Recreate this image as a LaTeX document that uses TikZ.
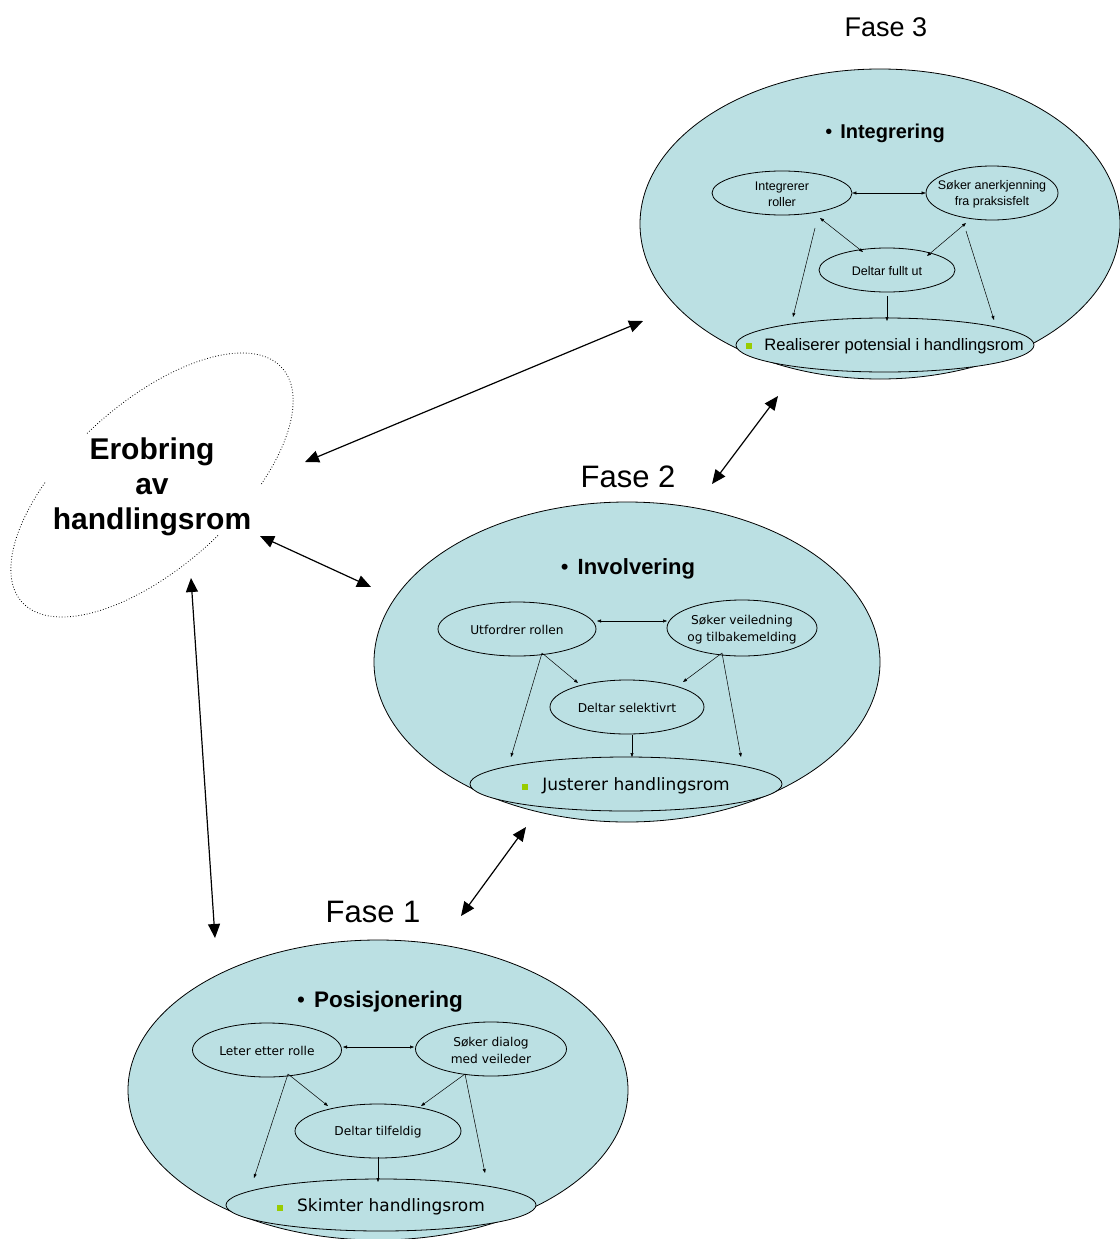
\documentclass[tikz,border=0pt]{standalone}
\usepackage{fontspec}
\setmainfont{Liberation Sans}
\newfontfamily\vfont{DejaVu Sans}
\usetikzlibrary{shapes.geometric,arrows.meta}
\definecolor{phasefill}{RGB}{187,224,227}
\definecolor{bulletgreen}{RGB}{153,204,0}
\newcommand{\sqbullet}{{\color{bulletgreen}\rule[1pt]{6pt}{6pt}}}

\begin{document}
\begin{tikzpicture}[x=1pt,y=-1pt,
  phase/.style={ellipse, draw, fill=phasefill, line width=0.8pt, inner sep=0pt},
  sub/.style={ellipse, draw, fill=phasefill, line width=0.8pt, inner sep=0pt},
  lbl/.style={inner sep=0pt, align=center},
  bigarrow/.style={line width=1.2pt, {Triangle[length=14pt,width=12pt]}-{Triangle[length=14pt,width=12pt]}},
  link/.style={line width=0.5pt, -{Triangle[length=4pt,width=3pt]}},
  dlink/.style={line width=0.5pt, {Triangle[length=4pt,width=3pt]}-{Triangle[length=4pt,width=3pt]}},
  title/.style={font=\fontsize{20}{24}\selectfont\bfseries},
  faselabel/.style={font=\fontsize{31}{36}\selectfont},
  smallA/.style={font=\fontsize{12.5}{16}\selectfont},
  smallV/.style={font=\vfont\fontsize{12.2}{17}\selectfont},
]
\useasboundingbox (0,0) rectangle (1119,1239);

% ---------- phase areas ----------
\node[phase, minimum width=480pt, minimum height=310pt] (f3) at (880,224) {};
\node[phase, minimum width=506pt, minimum height=320pt] (f2) at (627,662) {};
\node[phase, minimum width=500pt, minimum height=300pt] (f1) at (378,1090) {};

% ---------- phase labels ----------
\node[faselabel, font=\fontsize{27}{32}\selectfont] (l3) at (886,27) {Fase 3};
\node[faselabel] (l2) at (628,477) {Fase 2};
\node[faselabel] (l1) at (373,912) {Fase 1};

% ---------- Fase 3: Integrering ----------
\node[title] (t3) at (885,133) {\mdseries•\hspace{8pt}\bfseries Integrering};
\node[sub, minimum width=140pt, minimum height=44pt] (ir) at (782,193) {};
\node[lbl, smallA] (ir-t) at ([yshift=-1pt]ir.center) {Integrerer\\roller};
\node[sub, minimum width=132pt, minimum height=54pt] (sa) at (992,193) {};
\node[lbl, smallA] (sa-t) at ([yshift=-1pt]sa.center) {Søker anerkjenning\\fra praksisfelt};
\node[sub, minimum width=136pt, minimum height=44pt] (df) at (887,270) {};
\node[lbl, smallA] (df-t) at ([yshift=-1pt]df.center) {Deltar fullt ut};
\node[sub, minimum width=298pt, minimum height=54pt] (rp) at (885,345) {};
\node[lbl, font=\fontsize{16.6}{20}\selectfont] (rp-t) at ([yshift=-1pt]rp.center)
  {\sqbullet\hspace{12pt}Realiserer potensial i handlingsrom};

\draw[dlink] (ir.east) -- (sa.west);
\draw[dlink] ([shift={(38,25)}]ir.center) -- ([shift={(-24,-18)}]df.center);
\draw[dlink] ([shift={(-26,30)}]sa.center) -- ([shift={(40,-14)}]df.center);
\draw[link] ([shift={(33,35)}]ir.center) -- ([shift={(-92,-28)}]rp.center);
\draw[link] ([shift={(0,26)}]df.center) -- ([shift={(2,-24)}]rp.center);
\draw[link] ([shift={(-26,38)}]sa.center) -- ([shift={(109,-25)}]rp.center);

% ---------- Fase 2: Involvering ----------
\node[title, font=\fontsize{22}{26}\selectfont\bfseries] (t2) at (628,569) {\mdseries•\hspace{9pt}\bfseries Involvering};
\node[sub, minimum width=158pt, minimum height=54pt] (ur) at (517,629) {};
\node[lbl, smallV] (ur-t) at ([yshift=-1pt]ur.center) {Utfordrer rollen};
\node[sub, minimum width=150pt, minimum height=56pt] (sv) at (742,628) {};
\node[lbl, smallV] (sv-t) at ([yshift=-2pt]sv.center) {Søker veiledning\\og tilbakemelding};
\node[sub, minimum width=154pt, minimum height=54pt] (ds) at (627,707) {};
\node[lbl, smallV] (ds-t) at ([yshift=-1pt]ds.center) {Deltar selektivrt};
\node[sub, minimum width=312pt, minimum height=54pt] (jh) at (626,784) {};
\node[lbl, font=\vfont\fontsize{17}{20}\selectfont] (jh-t) at ([yshift=-2pt]jh.center)
  {\sqbullet\hspace{14pt}Justerer handlingsrom};

\draw[dlink] ([shift={(80,-8)}]ur.center) -- ([shift={(-75,-7)}]sv.center);
\draw[link] ([shift={(25,24)}]ur.center) -- ([shift={(-49,-24)}]ds.center);
\draw[link] ([shift={(-20,25)}]sv.center) -- ([shift={(56,-25)}]ds.center);
\draw[link] ([shift={(25,24)}]ur.center) -- ([shift={(-115,-27)}]jh.center);
\draw[link] ([shift={(-20,25)}]sv.center) -- ([shift={(115,-27)}]jh.center);
\draw[link] ([shift={(5,28)}]ds.center) -- ([shift={(6,-27)}]jh.center);

% ---------- Fase 1: Posisjonering ----------
\node[title, font=\fontsize{22.5}{26}\selectfont\bfseries] (t1) at (380,1002) {\mdseries•\hspace{9pt}\bfseries Posisjonering};
\node[sub, minimum width=149pt, minimum height=54pt] (le) at (267,1050) {};
\node[lbl, smallV] (le-t) at ([yshift=-1pt]le.center) {Leter etter rolle};
\node[sub, minimum width=151pt, minimum height=54pt] (sd) at (491,1049) {};
\node[lbl, smallV] (sd-t) at ([yshift=-1pt]sd.center) {Søker dialog\\med veileder};
\node[sub, minimum width=166pt, minimum height=54pt] (dt) at (378,1131) {};
\node[lbl, smallV] (dt-t) at ([yshift=-1pt]dt.center) {Deltar tilfeldig};
\node[sub, minimum width=310pt, minimum height=52pt] (sk) at (381,1205) {};
\node[lbl, font=\vfont\fontsize{17}{20}\selectfont] (sk-t) at ([yshift=-2pt]sk.center)
  {\sqbullet\hspace{14pt}Skimter handlingsrom};

\draw[dlink] ([shift={(76,-3)}]le.center) -- ([shift={(-77,-2)}]sd.center);
\draw[link] ([shift={(21,24)}]le.center) -- ([shift={(-50,-25)}]dt.center);
\draw[link] ([shift={(-26,25)}]sd.center) -- ([shift={(43,-25)}]dt.center);
\draw[link] ([shift={(21,24)}]le.center) -- ([shift={(-127,-27)}]sk.center);
\draw[link] ([shift={(-26,25)}]sd.center) -- ([shift={(104,-32)}]sk.center);
\draw[link] ([shift={(0,26)}]dt.center) -- ([shift={(-3,-23)}]sk.center);

% ---------- Erobring av handlingsrom ----------
\node[font=\fontsize{30}{35}\selectfont\bfseries, align=center] (ero) at (152,487) {Erobring\\av\\handlingsrom};
\begin{scope}[shift={(152,485)}, rotate=42]
  \draw[dotted, line width=0.8pt] plot[domain=-94.5:62.5, samples=90] ({175*cos(\x)},{82*sin(\x)});
  \draw[dotted, line width=0.8pt] plot[domain=85:244, samples=90] ({175*cos(\x)},{82*sin(\x)});
\end{scope}

% ---------- links between the phases ----------
\draw[bigarrow] ([shift={(153,-25)}]ero.center) -- ([shift={(-237,97)}]f3.center);
\draw[bigarrow] ([shift={(108,49)}]ero.center) -- ([shift={(-256,-75)}]f2.center);
\draw[bigarrow] ([shift={(39,91)}]ero.center) -- ([shift={(-163,-152)}]f1.center);
\draw[bigarrow] ([shift={(85,-178)}]f2.center) -- ([shift={(-102,172)}]f3.center);
\draw[bigarrow] ([shift={(83,-174)}]f1.center) -- ([shift={(-101,165)}]f2.center);
\end{tikzpicture}
\end{document}
